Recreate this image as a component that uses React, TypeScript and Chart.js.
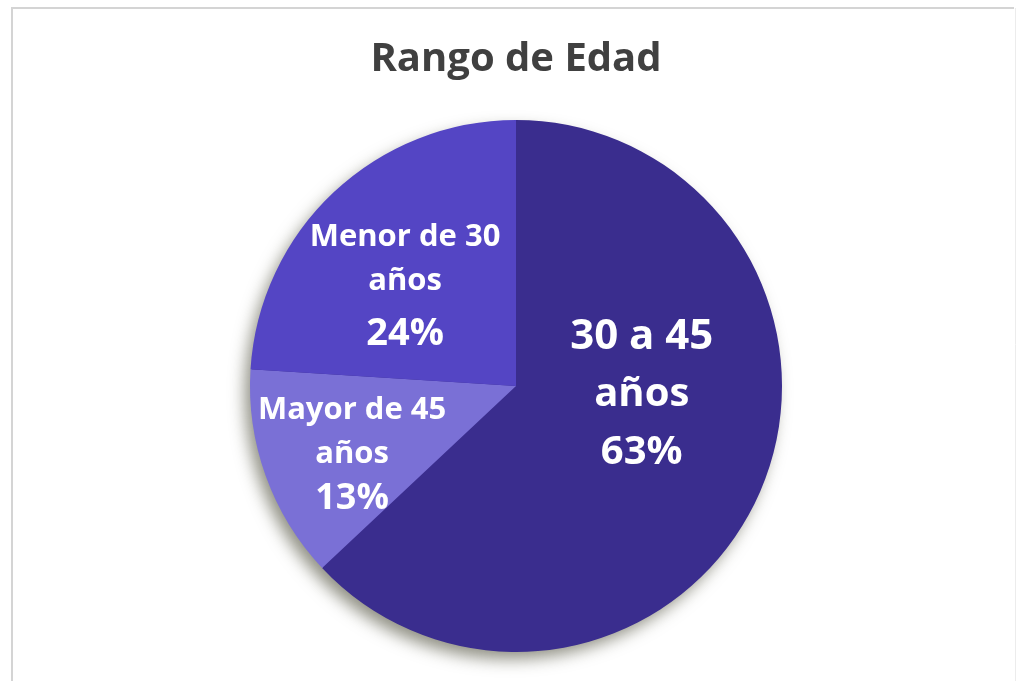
import React, { useEffect, useRef } from "react";
import { Chart, registerables } from "chart.js";

Chart.register(...registerables);

const TITLE = "Rango de Edad";
const categories = ["30 a 45 años", "Mayor de 45 años", "Menor de 30 años"];
const labelLines = [["30 a 45", "años"], ["Mayor de 45", "años"], ["Menor de 30", "años"]];
const values = [63, 13, 24];
const colors = ["#3a2d8e", "#7a70d6", "#5445c4"];

const FONT = "'Open Sans', Lato, sans-serif";

const framePlugin = {
  id: "frame",
  beforeDraw(chart: any) {
    const ctx = chart.ctx;
    ctx.save();
    ctx.strokeStyle = "#d4d4d4";
    ctx.lineWidth = 2;
    ctx.beginPath();
    ctx.moveTo(12, chart.height + 5);
    ctx.lineTo(12, 8);
    ctx.lineTo(1014, 8);
    ctx.stroke();
    ctx.strokeStyle = "#ececec";
    ctx.lineWidth = 1;
    ctx.beginPath();
    ctx.moveTo(1015.5, 8);
    ctx.lineTo(1015.5, chart.height);
    ctx.stroke();
    ctx.restore();
  },
};

const shadowPlugin = {
  id: "pieShadow",
  beforeDatasetsDraw(chart: any) {
    const meta = chart.getDatasetMeta(0);
    const el = meta.data[0];
    if (!el) return;
    const { x, y, outerRadius } = el.getProps(["x", "y", "outerRadius"], true);
    const ctx = chart.ctx;
    ctx.save();
    ctx.shadowColor = "rgba(70,70,50,0.6)";
    ctx.shadowBlur = 16;
    ctx.shadowOffsetX = -6;
    ctx.shadowOffsetY = 8;
    ctx.fillStyle = colors[0];
    ctx.beginPath();
    ctx.arc(x, y, outerRadius - 1, 0, Math.PI * 2);
    ctx.fill();
    ctx.restore();
  },
};

const labelPlugin = {
  id: "sliceLabels",
  afterDatasetsDraw(chart: any, _args: any, opts: any) {
    const meta = chart.getDatasetMeta(0);
    const ctx = chart.ctx;
    const total = values.reduce((a, b) => a + b, 0);
    meta.data.forEach((el: any, i: number) => {
      const p = el.getProps(["x", "y", "startAngle", "endAngle", "outerRadius"], true);
      const place = opts.place[i];
      const mid = (p.startAngle + p.endAngle) / 2 + (place.dAngle * Math.PI) / 180;
      const r = p.outerRadius * place.rFrac;
      const cx = p.x + Math.cos(mid) * r;
      const cy = p.y + Math.sin(mid) * r;
      const pct = Math.round((values[i] / total) * 100) + "%";
      const lines = [...labelLines[i], pct];
      ctx.save();
      ctx.fillStyle = "#ffffff";
      ctx.textAlign = "center";
      ctx.textBaseline = "middle";
      lines.forEach((t, j) => {
        ctx.font = `bold ${place.sizes[j]}px ${FONT}`;
        ctx.fillText(t, cx, cy + place.offsets[j]);
      });
      ctx.restore();
    });
  },
};

export default function App() {
  const ref = useRef<HTMLCanvasElement | null>(null);
  useEffect(() => {
    document.body.style.margin = "0";
    const chart = new Chart(ref.current as HTMLCanvasElement, {
      type: "pie",
      data: {
        labels: categories,
        datasets: [
          {
            data: values,
            backgroundColor: colors,
            borderWidth: 0,
          },
        ],
      },
      options: {
        responsive: false,
        animation: false,
        layout: { padding: { left: 250, right: 239, top: 0, bottom: 29 } },
        plugins: {
          legend: { display: false },
          tooltip: { enabled: false },
          title: {
            display: true,
            text: TITLE,
            color: "#404040",
            font: { family: FONT, size: 40, weight: "bold", lineHeight: 1.2 },
            padding: { top: 36, bottom: 36 },
          },
          sliceLabels: {
            place: [
              { dAngle: -19.3, rFrac: 0.474, sizes: [42, 40, 40], offsets: [-58, 0, 58] },
              { dAngle: -2.7, rFrac: 0.667, sizes: [31, 31, 36], offsets: [-44, 0, 45] },
              { dAngle: -4.5, rFrac: 0.564, sizes: [31, 31, 38], offsets: [-48, -4, 49] },
            ],
          },
        } as any,
      },
      plugins: [framePlugin, shadowPlugin, labelPlugin],
    });
    return () => chart.destroy();
  }, []);
  return (
    <div style={{ position: "absolute", left: 0, top: 0, width: 1021, height: 681, background: "#ffffff" }}>
      <canvas ref={ref} width={1021} height={681} />
    </div>
  );
}
